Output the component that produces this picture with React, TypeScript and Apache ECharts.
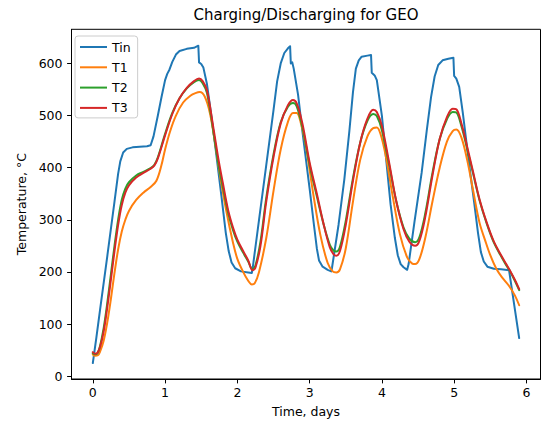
import React, { useEffect, useRef } from "react";
import * as echarts from "echarts";

const FONT = "DejaVu Sans";

const seriesNames = ["Tin", "T1", "T2", "T3"];
const seriesColors = ["#1f77b4", "#ff7f0e", "#2ca02c", "#d62728"];
const xTicks = [0, 1, 2, 3, 4, 5, 6];
const yTicks = [0, 100, 200, 300, 400, 500, 600];

const tinT = [0, 0.05, 0.1, 0.2, 0.3, 0.35, 0.38, 0.42, 0.47, 0.55, 0.65, 0.75, 0.8, 0.84, 0.9, 0.95, 1.0, 1.03, 1.06, 1.1, 1.15, 1.2, 1.3, 1.4, 1.46, 1.47, 1.5, 1.53, 1.58, 1.64, 1.7, 1.78, 1.84, 1.88, 1.92, 1.97, 2.05, 2.15, 2.2,
  2.21, 2.3, 2.4, 2.5, 2.55, 2.6, 2.65, 2.7, 2.73, 2.74, 2.76, 2.78, 2.84, 2.9, 3.0, 3.06, 3.1, 3.13, 3.18, 3.25, 3.3,
  3.31, 3.4, 3.48, 3.55, 3.6, 3.64, 3.68, 3.72, 3.8, 3.85, 3.86, 3.9, 3.93, 4.0, 4.06, 4.12, 4.18, 4.22, 4.26, 4.3, 4.35,
  4.37, 4.45, 4.55, 4.62, 4.68, 4.73, 4.78, 4.84, 4.92, 4.99, 5.0, 5.03, 5.07, 5.12, 5.2, 5.28, 5.33, 5.37, 5.41, 5.46, 5.55, 5.65, 5.76, 5.9];
const tinV = [25, 75, 127, 230, 335, 388, 412, 429, 436, 439, 440, 441, 443, 460, 500, 535, 568, 580, 588, 603, 617, 624, 628, 630, 634, 602, 599, 592, 560, 500, 435, 345, 275, 240, 218, 207, 201, 199, 198,
  205, 300, 405, 510, 565, 600, 620, 629, 633, 600, 602, 590, 540, 470, 360, 290, 245, 222, 210, 204, 201,
  208, 290, 377, 470, 545, 590, 606, 613, 615, 616, 582, 577, 568, 500, 415, 330, 265, 232, 215, 209, 204,
  215, 295, 390, 470, 535, 575, 597, 606, 609, 611, 576, 571, 555, 505, 415, 330, 275, 238, 220, 210, 206, 205, 203, 73];

const t1T = [0, 0.03, 0.07, 0.1, 0.15, 0.2, 0.25, 0.3, 0.35, 0.4, 0.45, 0.5, 0.6, 0.7, 0.8, 0.88, 0.95, 1.0, 1.07, 1.15, 1.25, 1.35, 1.42, 1.48, 1.55, 1.62, 1.7, 1.76, 1.85, 1.94, 2.0, 2.08, 2.15, 2.2, 2.24,
  2.3, 2.4, 2.5, 2.6, 2.7, 2.77, 2.82, 2.88, 2.95, 3.05, 3.15, 3.25, 3.32, 3.37, 3.42, 3.5, 3.6, 3.7, 3.8, 3.88, 3.93, 3.98, 4.05, 4.15, 4.25, 4.35, 4.42, 4.46, 4.52,
  4.6, 4.7, 4.8, 4.9, 4.98, 5.03, 5.1, 5.18, 5.26, 5.35, 5.43, 5.5, 5.58, 5.66, 5.76, 5.84, 5.9];
const t1V = [42, 39, 40, 47, 68, 103, 148, 198, 243, 277, 300, 317, 338, 352, 363, 375, 405, 435, 470, 500, 525, 538, 543, 545, 536, 505, 440, 385, 315, 256, 225, 200, 183, 176, 178,
  200, 265, 355, 435, 488, 505, 505, 485, 440, 350, 270, 217, 201, 199, 205, 245, 335, 415, 460, 476, 477, 465, 425, 345, 272, 228, 216, 215, 225,
  265, 335, 400, 450, 470, 473, 458, 415, 358, 295, 260, 232, 207, 190, 173, 155, 136];

const t2T = [0, 0.03, 0.06, 0.1, 0.15, 0.2, 0.25, 0.3, 0.35, 0.4, 0.45, 0.5, 0.6, 0.7, 0.8, 0.85, 0.9, 1.0, 1.1, 1.2, 1.3, 1.4, 1.47, 1.52, 1.58, 1.67, 1.74, 1.8, 1.87, 1.94, 2.0, 2.08, 2.15, 2.21,
  2.25, 2.32, 2.4, 2.5, 2.6, 2.7, 2.77, 2.82, 2.9, 3.0, 3.1, 3.2, 3.28, 3.33, 3.37, 3.42, 3.5, 3.6, 3.7, 3.8, 3.88, 3.93, 4.0, 4.1, 4.2, 4.3, 4.38, 4.46, 4.52,
  4.6, 4.7, 4.8, 4.9, 4.98, 5.03, 5.1, 5.18, 5.26, 5.35, 5.45, 5.55, 5.65, 5.72, 5.77, 5.84, 5.9];
const t2V = [44, 42, 43, 58, 92, 140, 195, 250, 300, 338, 360, 372, 385, 392, 399, 405, 420, 465, 505, 533, 552, 564, 568, 562, 543, 468, 405, 362, 315, 280, 258, 237, 220, 205,
  212, 258, 342, 425, 487, 517, 524, 518, 478, 405, 345, 288, 252, 241, 239, 248, 298, 380, 448, 490, 503, 499, 472, 405, 335, 285, 264, 257, 267,
  312, 390, 455, 493, 507, 506, 480, 436, 390, 338, 293, 256, 230, 213, 202, 183, 165];

const t3T = [0, 0.03, 0.06, 0.1, 0.15, 0.2, 0.25, 0.3, 0.35, 0.4, 0.45, 0.5, 0.6, 0.7, 0.8, 0.85, 0.9, 1.0, 1.1, 1.2, 1.3, 1.4, 1.47, 1.52, 1.58, 1.67, 1.74, 1.8, 1.87, 1.94, 2.0, 2.08, 2.15, 2.21,
  2.25, 2.32, 2.4, 2.5, 2.6, 2.7, 2.77, 2.82, 2.9, 3.0, 3.1, 3.2, 3.28, 3.33, 3.37, 3.42, 3.5, 3.6, 3.7, 3.8, 3.88, 3.93, 4.0, 4.1, 4.2, 4.3, 4.38, 4.46, 4.52,
  4.6, 4.7, 4.8, 4.9, 4.98, 5.03, 5.1, 5.18, 5.26, 5.35, 5.45, 5.55, 5.65, 5.72, 5.77, 5.84, 5.9];
const t3V = [46, 43, 44, 56, 86, 132, 185, 240, 290, 328, 352, 366, 381, 390, 398, 404, 418, 462, 503, 533, 553, 566, 571, 566, 548, 475, 415, 370, 320, 285, 262, 240, 222, 203,
  208, 250, 335, 420, 485, 520, 530, 524, 485, 410, 350, 288, 247, 234, 231, 240, 290, 375, 448, 494, 511, 507, 480, 410, 335, 282, 258, 250, 260,
  305, 385, 455, 497, 513, 512, 485, 440, 393, 340, 295, 258, 232, 215, 203, 185, 167];

const seriesT = [tinT, t1T, t2T, t3T];
const seriesV = [tinV, t1V, t2V, t3V];

const textBase = { fontFamily: FONT, color: "#000" };

export default function App() {
  const ref = useRef<HTMLDivElement>(null);
  useEffect(() => {
    if (!ref.current) return;
    const chart = echarts.init(ref.current, null, { renderer: "svg" });
    const series = seriesNames.map((name, i) => ({
      name,
      type: "line",
      data: seriesT[i].map((t, j) => [t, seriesV[i][j]]),
      symbol: "none",
      showSymbol: false,
      smooth: i === 0 ? false : 0.35,
      color: seriesColors[i],
      lineStyle: { width: 2, color: seriesColors[i], join: "round", cap: "round" },
      z: 2 + i,
    }));
    chart.setOption({
      animation: false,
      backgroundColor: "#fff",
      title: {
        text: "Charging/Discharging for GEO",
        left: 306,
        top: 7,
        padding: 0,
        textAlign: "center",
        textStyle: { ...textBase, fontSize: 15, fontWeight: "normal" },
      },
      grid: {
        left: 71.5,
        top: 29.3,
        width: 469,
        height: 350.9,
        show: true,
        borderColor: "#000",
        borderWidth: 1,
        backgroundColor: "transparent",
      },
      legend: {
        orient: "vertical",
        left: 75,
        top: 36,
        padding: [4, 7, 3, 5],
        icon: "rect",
        itemWidth: 27,
        itemHeight: 2,
        itemGap: 6.3,
        borderColor: "#cccccc",
        borderWidth: 1,
        borderRadius: 3,
        backgroundColor: "rgba(255,255,255,0.8)",
        textStyle: { ...textBase, fontSize: 12.5, lineHeight: 14 },
        data: seriesNames,
      },
      xAxis: {
        type: "value",
        min: -0.295,
        max: 6.195,
        name: "Time, days",
        nameLocation: "middle",
        nameGap: 26,
        nameTextStyle: { ...textBase, fontSize: 12.5 },
        axisLine: { show: true, onZero: false, lineStyle: { color: "#000", width: 1 } },
        axisTick: { show: true, length: 4.4, customValues: xTicks, lineStyle: { color: "#000" } },
        axisLabel: { customValues: xTicks, ...textBase, fontSize: 12.5, margin: 7 },
        splitLine: { show: false },
      },
      yAxis: {
        type: "value",
        min: -5.5,
        max: 665.5,
        name: "Temperature, °C",
        nameLocation: "middle",
        nameGap: 41,
        nameTextStyle: { ...textBase, fontSize: 12.5 },
        axisLine: { show: true, onZero: false, lineStyle: { color: "#000", width: 1 } },
        axisTick: { show: true, length: 4.4, customValues: yTicks, lineStyle: { color: "#000" } },
        axisLabel: { customValues: yTicks, ...textBase, fontSize: 12.5, margin: 9 },
        splitLine: { show: false },
      },
      series,
    });
    return () => chart.dispose();
  }, []);
  return (
    <div
      ref={ref}
      style={{ position: "fixed", left: 0, top: 0, width: 541, height: 423 }}
    />
  );
}
